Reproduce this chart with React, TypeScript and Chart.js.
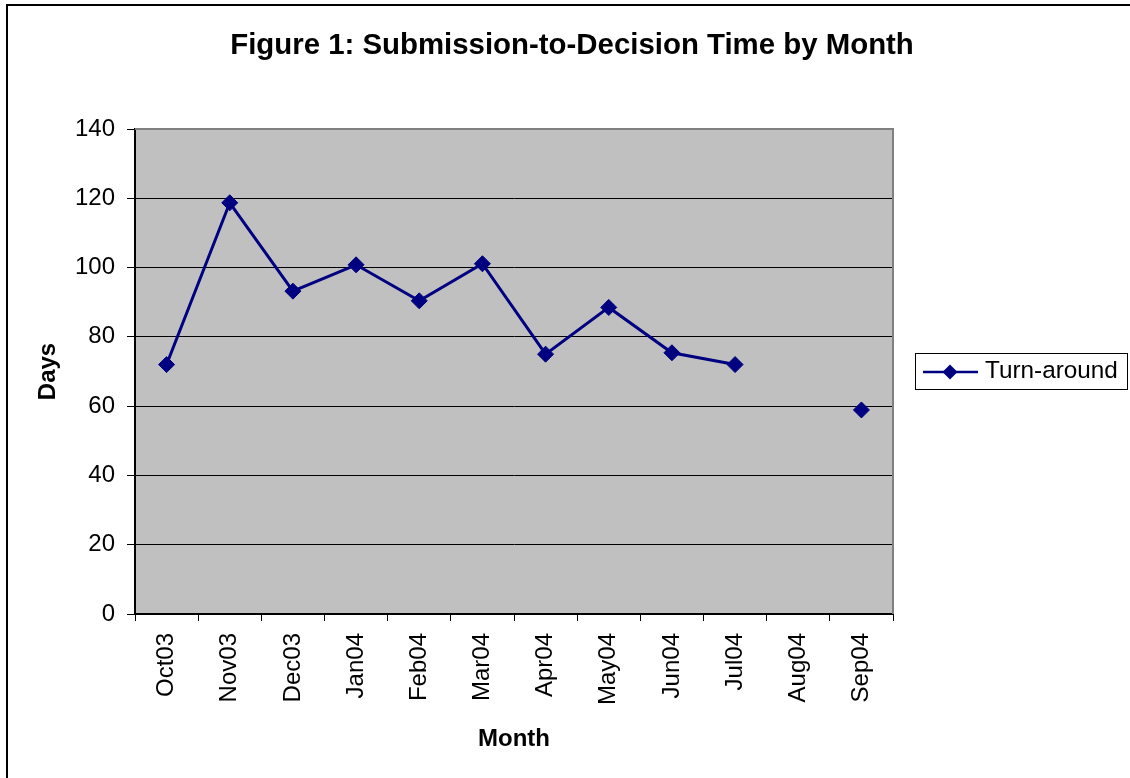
import { useEffect, useRef } from 'react';
import { Chart, registerables } from 'chart.js';

Chart.register(...registerables);

const months = ['Oct03', 'Nov03', 'Dec03', 'Jan04', 'Feb04', 'Mar04', 'Apr04', 'May04', 'Jun04', 'Jul04', 'Aug04', 'Sep04'];
const turnaround: (number | null)[] = [72, 118.7, 93.2, 100.8, 90.4, 101.1, 75, 88.5, 75.4, 72, null, 58.9];
const seriesLabel = 'Turn-around';
const titleText = 'Figure 1: Submission-to-Decision Time by Month';
const xTitle = 'Month';
const yTitle = 'Days';
const yMin = 0;
const yMax = 140;
const yStep = 20;

const FONT = '"Liberation Sans", Arial, Helvetica, sans-serif';
const NAVY = '#000080';

const chromePlugin = {
  id: 'chrome',
  beforeDraw(chart: any) {
    const { ctx, chartArea: a } = chart;
    ctx.save();
    ctx.fillStyle = '#ffffff';
    ctx.fillRect(0, 0, chart.width, chart.height);
    ctx.fillStyle = '#c0c0c0';
    ctx.fillRect(a.left, a.top, a.right - a.left, a.bottom - a.top);
    ctx.restore();
  },
  beforeDatasetsDraw(chart: any) {
    const { ctx, chartArea: a } = chart;
    ctx.save();
    ctx.strokeStyle = '#808080';
    ctx.lineWidth = 2;
    ctx.beginPath();
    ctx.moveTo(a.left, a.top);
    ctx.lineTo(a.right, a.top);
    ctx.lineTo(a.right, a.bottom);
    ctx.stroke();
    ctx.restore();
  },
  afterDraw(chart: any) {
    const { ctx } = chart;
    ctx.save();
    // Title
    ctx.fillStyle = '#000';
    ctx.font = `bold 29.4px ${FONT}`;
    ctx.textAlign = 'center';
    ctx.textBaseline = 'alphabetic';
    ctx.fillText(titleText, 572, 54);

    // Legend
    const ds = chart.data.datasets[0];
    ctx.strokeStyle = '#000';
    ctx.lineWidth = 1;
    ctx.strokeRect(915.5, 353.5, 212, 36);
    const ly = 372;
    ctx.strokeStyle = ds.borderColor;
    ctx.lineWidth = 2.5;
    ctx.beginPath();
    ctx.moveTo(923, ly);
    ctx.lineTo(978, ly);
    ctx.stroke();
    ctx.fillStyle = ds.pointBackgroundColor;
    ctx.beginPath();
    ctx.moveTo(950 - 7.5, ly);
    ctx.lineTo(950, ly - 7.5);
    ctx.lineTo(950 + 7.5, ly);
    ctx.lineTo(950, ly + 7.5);
    ctx.closePath();
    ctx.fill();
    ctx.fillStyle = '#000';
    ctx.font = `24.3px ${FONT}`;
    ctx.textAlign = 'left';
    ctx.textBaseline = 'alphabetic';
    ctx.fillText(ds.label, 985, 378);
    ctx.restore();
  },
};

export default function App() {
  const ref = useRef<HTMLCanvasElement | null>(null);

  useEffect(() => {
    if (!ref.current) return;
    const chart = new Chart(ref.current, {
      type: 'line',
      data: {
        labels: months,
        datasets: [
          {
            label: seriesLabel,
            data: turnaround,
            borderColor: NAVY,
            backgroundColor: NAVY,
            borderWidth: 3,
            pointStyle: 'rectRot',
            pointRadius: 8,
            pointBorderWidth: 1,
            pointBackgroundColor: NAVY,
            pointBorderColor: NAVY,
            spanGaps: false,
            tension: 0,
          },
        ],
      },
      options: {
        responsive: false,
        animation: false,
        devicePixelRatio: 1,
        layout: { padding: { top: 129, left: 0, right: 237, bottom: 0 } },
        plugins: {
          legend: { display: false },
          title: { display: false },
          tooltip: { enabled: false },
        },
        scales: {
          x: {
            type: 'category',
            offset: true,
            grid: {
              offset: true,
              drawOnChartArea: false,
              drawTicks: true,
              tickLength: 7,
              color: '#000',
              lineWidth: 1,
            },
            border: { display: true, color: '#000', width: 2 },
            ticks: {
              color: '#000',
              font: { family: FONT, size: 24 },
              minRotation: 90,
              maxRotation: 90,
              padding: 12,
              autoSkip: false,
            },
            title: {
              display: true,
              text: xTitle,
              color: '#000',
              font: { family: FONT, size: 24, weight: 'bold' },
              padding: { top: 0, bottom: 24 },
            },
            afterFit(scale: any) {
              scale.height = 164;
            },
          },
          y: {
            min: yMin,
            max: yMax,
            grid: {
              color: '#000',
              lineWidth: 1,
              drawTicks: true,
              tickLength: 8,
            },
            border: { display: true, color: '#000', width: 2 },
            ticks: {
              stepSize: yStep,
              color: '#000',
              font: { family: FONT, size: 24 },
              padding: 12,
            },
            title: {
              display: true,
              text: yTitle,
              color: '#000',
              font: { family: FONT, size: 24, weight: 'bold' },
              padding: { top: 34, bottom: 0 },
            },
            afterFit(scale: any) {
              scale.width = 135;
            },
          },
        },
      },
      plugins: [chromePlugin],
    });
    return () => chart.destroy();
  }, []);

  return (
    <div style={{ position: 'fixed', left: 0, top: 0, width: 1130, height: 778, overflow: 'hidden', background: '#fff' }}>
      <canvas ref={ref} width={1130} height={778} style={{ position: 'absolute', left: 0, top: 0, width: 1130, height: 778 }} />
      <div
        style={{
          position: 'absolute',
          left: 6,
          top: 4,
          width: 1300,
          height: 1000,
          border: '2px solid #000',
          boxSizing: 'border-box',
          pointerEvents: 'none',
        }}
      />
    </div>
  );
}
